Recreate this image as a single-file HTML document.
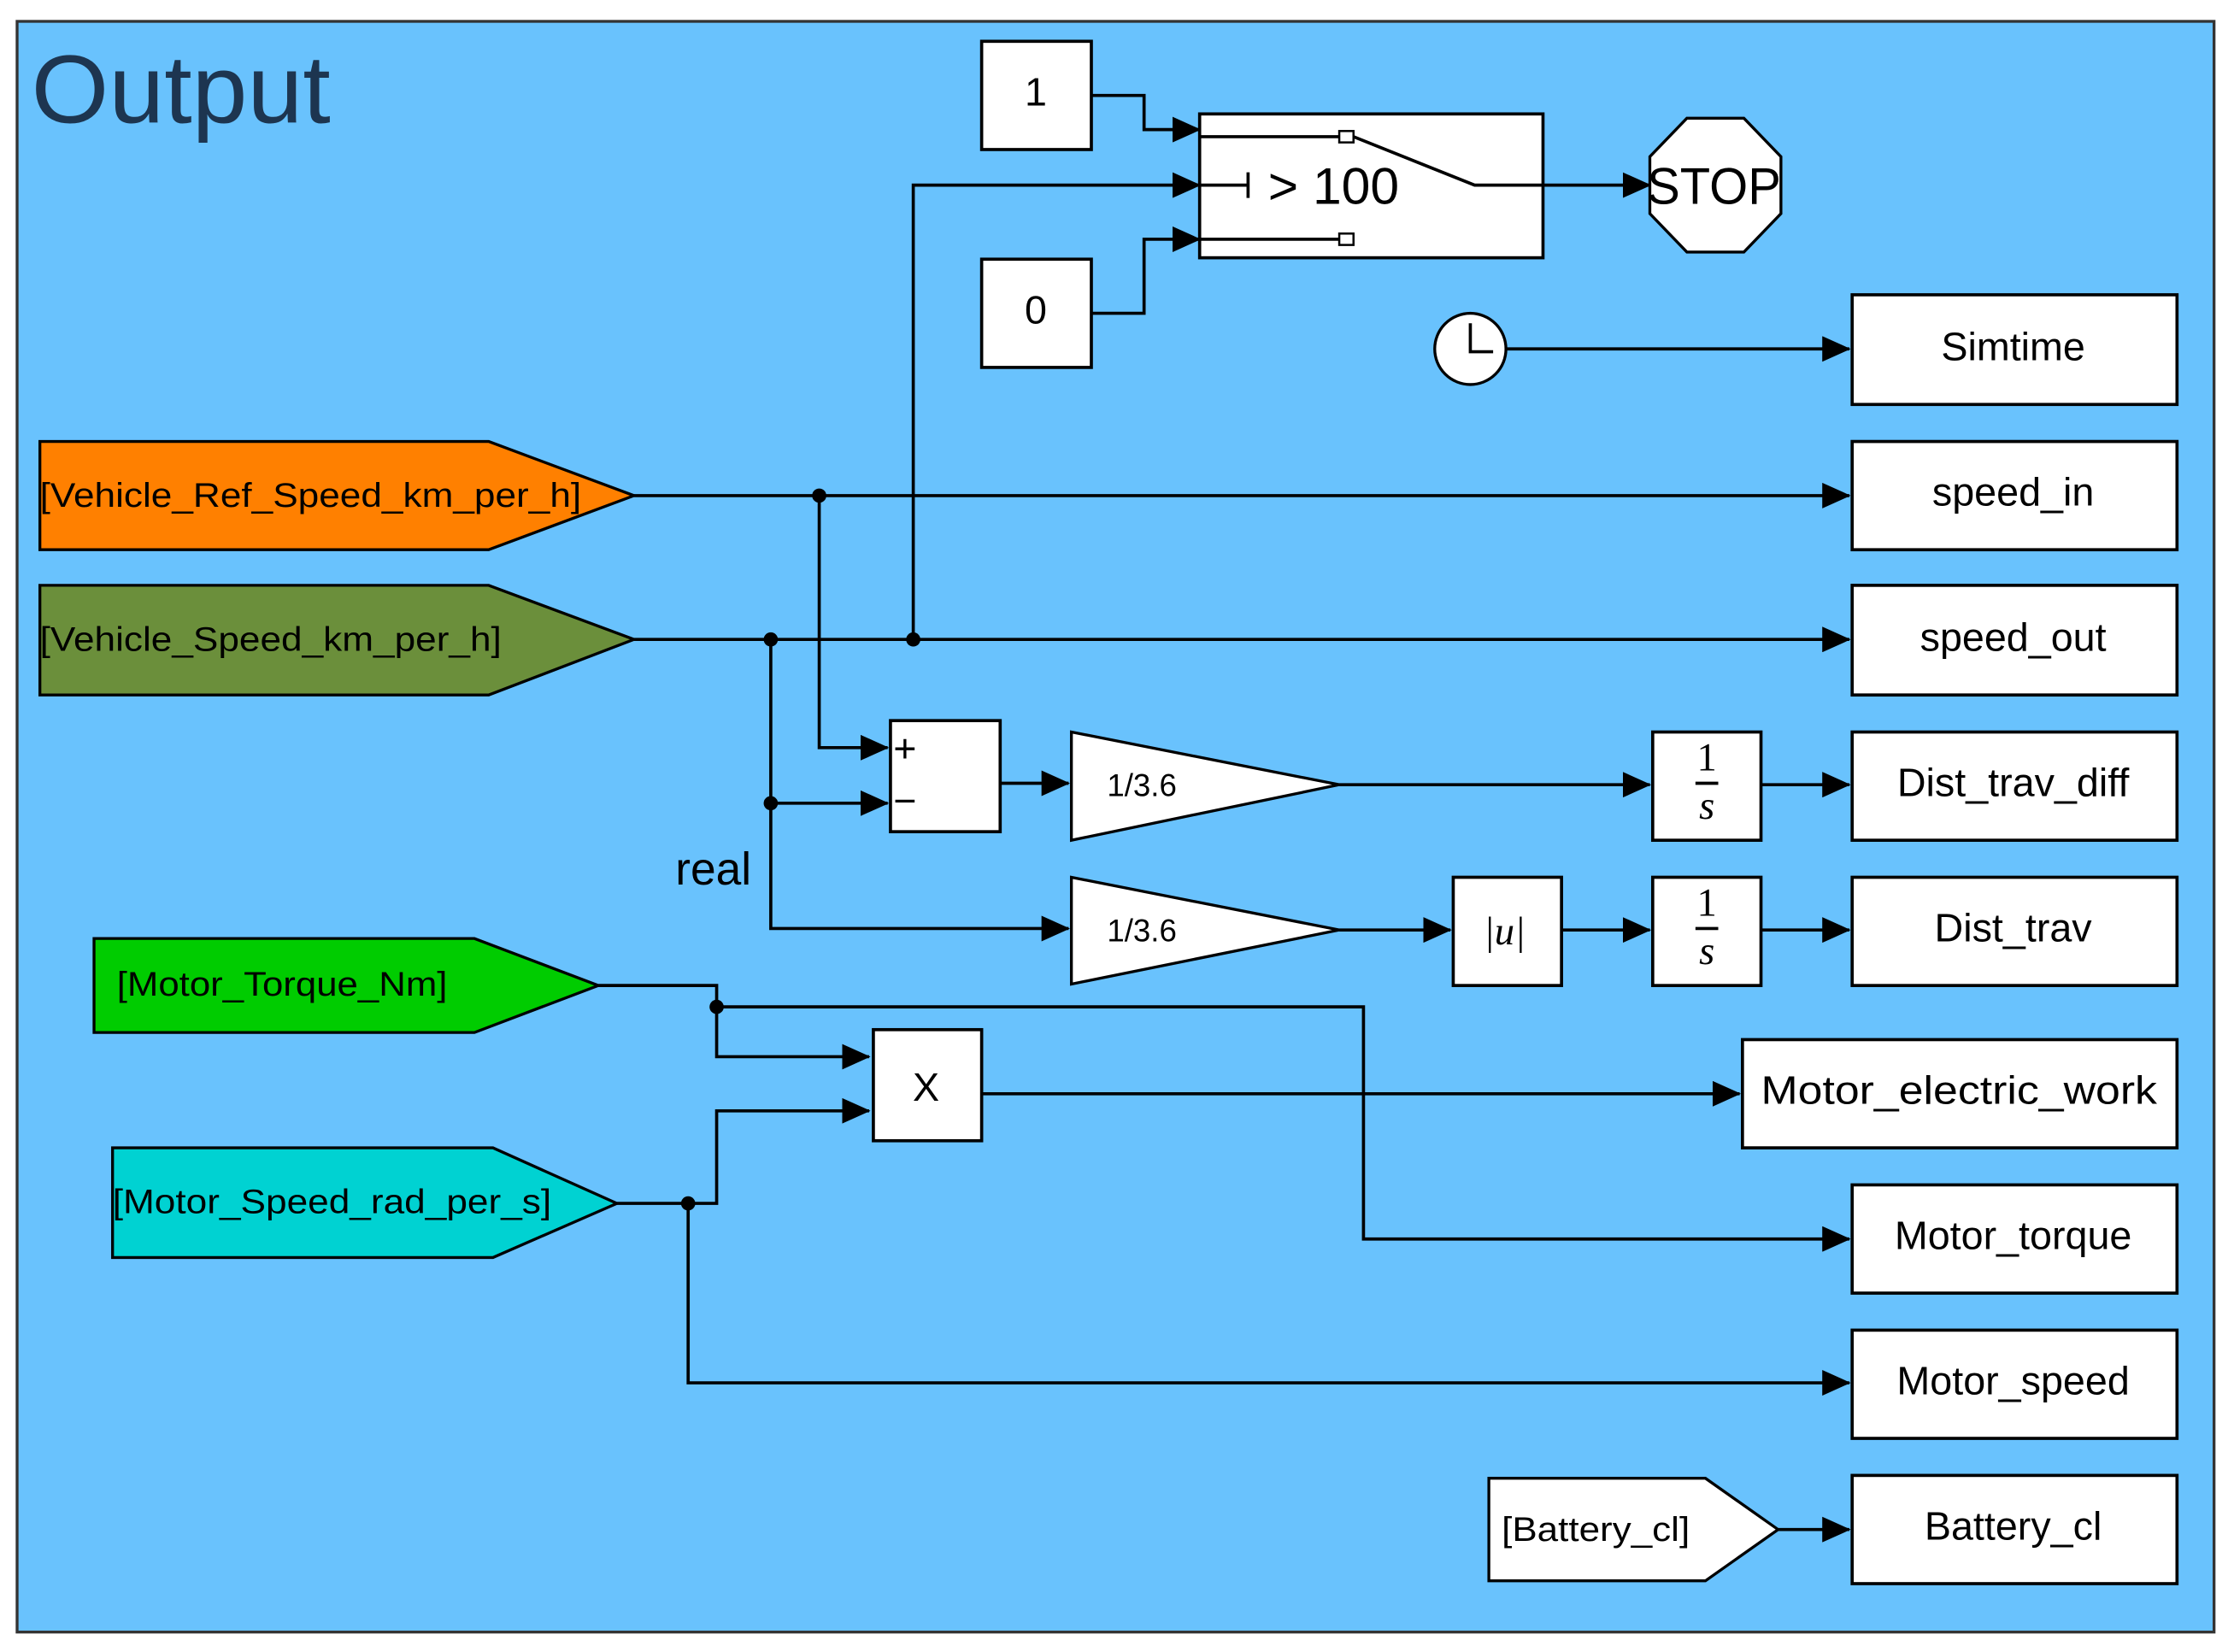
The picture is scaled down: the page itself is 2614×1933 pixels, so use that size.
<!DOCTYPE html>
<html><head><style>html,body{margin:0;padding:0;background:#fff}svg{display:block}</style></head>
<body>
<svg width="2614" height="1933" viewBox="0 0 1568 1160" preserveAspectRatio="none" xmlns="http://www.w3.org/2000/svg" font-family="Liberation Sans, sans-serif">
<defs>
<marker id="m" markerWidth="20" markerHeight="18" refX="19" refY="9" orient="auto" markerUnits="userSpaceOnUse"><path d="M0,0 L20,9 L0,18 z" fill="#000"/></marker>
</defs>
<style>
.l{fill:none;stroke:#000;stroke-width:2.2}
.ar{marker-end:url(#m)}
.b{fill:#fff;stroke:#000;stroke-width:2.2}
.t{font-size:28px;fill:#000;text-anchor:middle}
</style>
<rect x="0" y="0" width="1568" height="1160" fill="#fff"/>
<rect x="12" y="15" width="1542" height="1131" fill="#69c2fd" stroke="#333" stroke-width="2"/>
<text x="22" y="86" font-size="68" fill="#1d3550" textLength="210" lengthAdjust="spacingAndGlyphs">Output</text>

<rect class="b" x="689" y="29" width="77" height="76"/><text class="t" x="727" y="74" font-size="24">1</text>
<rect class="b" x="689" y="182" width="77" height="76"/><text class="t" x="727" y="227" font-size="24">0</text>
<rect class="b" x="842" y="80" width="241" height="101"/>
<path class="l" d="M842,96 H940 M842,168 H940 M950,96 L1035,130 H1083 M842,130 H876 M876,121 V139"/>
<rect x="940" y="92" width="10" height="8" fill="#fff" stroke="#000" stroke-width="1.5"/>
<rect x="940" y="164" width="10" height="8" fill="#fff" stroke="#000" stroke-width="1.5"/>
<text x="890" y="143" font-size="36" textLength="92" lengthAdjust="spacingAndGlyphs">&gt; 100</text>
<path class="l ar" d="M766,67 H803 V91 H842"/>
<path class="l ar" d="M766,220 H803 V168 H842"/>
<path class="l ar" d="M641,449 V130 H842"/>
<path class="l ar" d="M1083,130 H1158"/>
<polygon points="1184,83 1224,83 1250,110 1250,150 1224,177 1184,177 1158,150 1158,110" fill="#fff" stroke="#000" stroke-width="2"/>
<text x="1156" y="143" font-size="36" textLength="94" lengthAdjust="spacingAndGlyphs">STOP</text>
<circle cx="1032" cy="245" r="25" fill="#fff" stroke="#000" stroke-width="2"/>
<path class="l" d="M1032,227 V247 H1048"/>
<path class="l ar" d="M1057,245 H1298"/>

<rect class="b" x="1300" y="207" width="228" height="77"/><text class="t" x="1413" y="253">Simtime</text>
<rect class="b" x="1300" y="310" width="228" height="76"/><text class="t" x="1413" y="355">speed_in</text>
<rect class="b" x="1300" y="411" width="228" height="77"/><text class="t" x="1413" y="457">speed_out</text>
<rect class="b" x="1300" y="514" width="228" height="76"/><text class="t" x="1413" y="559">Dist_trav_diff</text>
<rect class="b" x="1300" y="616" width="228" height="76"/><text class="t" x="1413" y="661">Dist_trav</text>
<rect class="b" x="1223" y="730" width="305" height="76"/><text x="1236" y="775" font-size="28" textLength="278" lengthAdjust="spacingAndGlyphs">Motor_electric_work</text>
<rect class="b" x="1300" y="832" width="228" height="76"/><text class="t" x="1413" y="877">Motor_torque</text>
<rect class="b" x="1300" y="934" width="228" height="76"/><text class="t" x="1413" y="979">Motor_speed</text>
<rect class="b" x="1300" y="1036" width="228" height="76"/><text class="t" x="1413" y="1081">Battery_cl</text>

<polygon points="28,310 343,310 445,348 343,386 28,386" fill="#ff8000" stroke="#000" stroke-width="2"/>
<text x="28" y="356" font-size="24" textLength="380" lengthAdjust="spacingAndGlyphs">[Vehicle_Ref_Speed_km_per_h]</text>
<polygon points="28,411 343,411 445,449 343,488 28,488" fill="#6b8f3b" stroke="#000" stroke-width="2"/>
<text x="28" y="457" font-size="24" textLength="324" lengthAdjust="spacingAndGlyphs">[Vehicle_Speed_km_per_h]</text>
<polygon points="66,659 333,659 420,692 333,725 66,725" fill="#00cc00" stroke="#000" stroke-width="2"/>
<text x="82" y="699" font-size="24" textLength="232" lengthAdjust="spacingAndGlyphs">[Motor_Torque_Nm]</text>
<polygon points="79,806 346,806 433,845 346,883 79,883" fill="#00d2d2" stroke="#000" stroke-width="2"/>
<text x="79" y="852" font-size="24" textLength="308" lengthAdjust="spacingAndGlyphs">[Motor_Speed_rad_per_s]</text>
<polygon points="1045,1038 1197,1038 1248,1074 1197,1110 1045,1110" fill="#fff" stroke="#000" stroke-width="2"/>
<text x="1054" y="1082" font-size="24" textLength="132" lengthAdjust="spacingAndGlyphs">[Battery_cl]</text>
<path class="l ar" d="M1248,1074 H1298"/>

<path class="l ar" d="M445,348 H1298"/>
<path class="l ar" d="M445,449 H1298"/>
<circle cx="575" cy="348" r="5"/><circle cx="541" cy="449" r="5"/><circle cx="641" cy="449" r="5"/><circle cx="541" cy="564" r="5"/>
<path class="l ar" d="M575,348 V525 H623"/>
<path class="l ar" d="M541,449 V564 H623"/>
<path class="l ar" d="M541,564 V652 H750"/>
<rect class="b" x="625" y="506" width="77" height="78"/>
<text x="627" y="535" font-size="28">+</text><text x="627" y="572" font-size="28">−</text>
<path class="l ar" d="M702,550 H750"/>
<polygon points="752,514 940,551 752,590" fill="#fff" stroke="#000" stroke-width="2"/>
<text x="777" y="559" font-size="22">1/3.6</text>
<path class="l ar" d="M940,551 H1158"/>
<rect class="b" x="1160" y="514" width="76" height="76"/>
<text class="t" x="1198" y="541" font-size="22" font-family="Liberation Serif">1</text><path class="l" d="M1190,550 H1206" stroke-width="1.5"/><text class="t" x="1198" y="575" font-size="22" font-style="italic" font-family="Liberation Serif">s</text>
<path class="l ar" d="M1236,551 H1298"/>
<polygon points="752,616 940,653 752,691" fill="#fff" stroke="#000" stroke-width="2"/>
<text x="777" y="661" font-size="22">1/3.6</text>
<path class="l ar" d="M940,653 H1018"/>
<rect class="b" x="1020" y="616" width="76" height="76"/>
<text class="t" x="1056" y="663" font-size="30" font-style="italic" font-family="Liberation Serif">|u|</text>
<path class="l ar" d="M1096,653 H1158"/>
<rect class="b" x="1160" y="616" width="76" height="76"/>
<text class="t" x="1198" y="643" font-size="22" font-family="Liberation Serif">1</text><path class="l" d="M1190,652 H1206" stroke-width="1.5"/><text class="t" x="1198" y="677" font-size="22" font-style="italic" font-family="Liberation Serif">s</text>
<path class="l ar" d="M1236,653 H1298"/>
<text x="474" y="621" font-size="32">real</text>

<path class="l ar" d="M420,692 H503 V742 H610"/>
<circle cx="503" cy="707" r="5"/>
<path class="l ar" d="M503,707 H957 V870 H1298"/>
<rect class="b" x="613" y="723" width="76" height="78"/>
<text class="t" x="650" y="773" font-size="28">X</text>
<path class="l ar" d="M689,768 H1221"/>
<path class="l ar" d="M433,845 H503 V780 H610"/>
<circle cx="483" cy="845" r="5"/>
<path class="l ar" d="M483,845 V971 H1298"/>
</svg>
</body></html>
